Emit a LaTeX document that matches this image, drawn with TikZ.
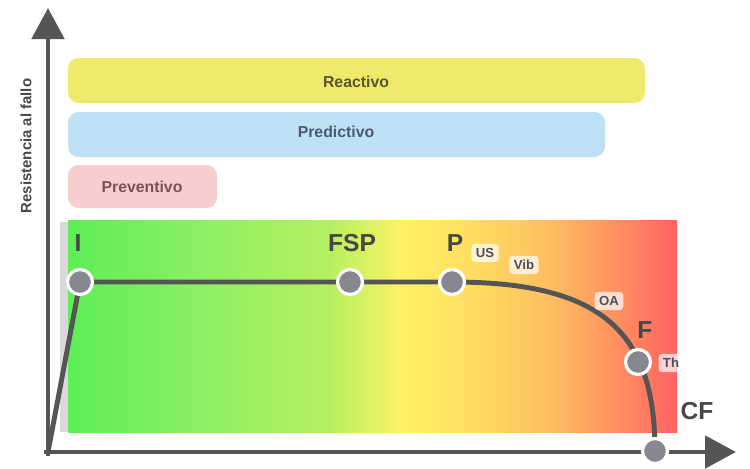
\documentclass[tikz,border=0pt]{standalone}
\usepackage{fontspec}
\setmainfont{Liberation Sans}
\usetikzlibrary{arrows.meta}

\definecolor{axisgray}{HTML}{555555}
\definecolor{dotgray}{HTML}{87878F}
\definecolor{textgray}{HTML}{474747}
\definecolor{reactbar}{HTML}{EFEA6C}
\definecolor{predbar}{HTML}{BEE1F6}
\definecolor{prevbar}{HTML}{F8CDCD}
\definecolor{reacttext}{HTML}{5A5630}
\definecolor{predtext}{HTML}{4C5A70}
\definecolor{prevtext}{HTML}{7A5252}
\definecolor{tagtext}{HTML}{4A5062}
\definecolor{stripgray}{HTML}{DCD6DE}
\definecolor{zgA}{HTML}{5EEE56}
\definecolor{zgB}{HTML}{8CF062}
\definecolor{zgC}{HTML}{B6F062}
\definecolor{zyA}{HTML}{FFF264}
\definecolor{zyB}{HTML}{FFDE62}
\definecolor{zoA}{HTML}{FFBE62}
\definecolor{zoB}{HTML}{FF8E60}
\definecolor{zrA}{HTML}{FF6262}

\pgfdeclarehorizontalshading{zone}{100bp}{color(0bp)=(zgA); color(25bp)=(zgA);
  color(35.8bp)=(zgB); color(46.5bp)=(zgC); color(52.5bp)=(zyA);
  color(58bp)=(zyB); color(64.5bp)=(zoA); color(70.3bp)=(zoB);
  color(75bp)=(zrA); color(100bp)=(zrA)}

\begin{document}
\begin{tikzpicture}[x=0.02cm,y=-0.02cm,
    axis/.style={line width=2.8pt,axisgray,-{Triangle[length=0.62cm,width=0.64cm]}},
    curve/.style={line width=2.8pt,axisgray},
    bar/.style={rounded corners=6pt,inner sep=0pt},
    barlabel/.style={font=\bfseries\fontsize{9}{10}\selectfont},
    dot/.style={circle,fill=dotgray,draw=white,line width=1.8pt,minimum size=0.5cm,inner sep=0pt},
    ptlabel/.style={font=\bfseries\fontsize{14}{16}\selectfont,textgray},
    tag/.style={font=\bfseries\fontsize{7.5}{9}\selectfont,text=tagtext,
      fill=white,fill opacity=0.7,text opacity=1,rounded corners=2pt,inner sep=2.5pt}]
\useasboundingbox (0,0) rectangle (750,468);

% zones
\fill[stripgray] (60,222) rectangle (68,432);
\fill[shading=zone] (68,220) rectangle (677,432);

% strategies
\fill[bar,reactbar] (68,58) rectangle (645,103);
\fill[bar,predbar] (68,112) rectangle (605,157);
\fill[bar,prevbar] (68,165) rectangle (217,208);
\node[barlabel,text=reacttext] (reactivo) at (356,82) {Reactivo};
\node[barlabel,text=predtext] (predictivo) at (336,132) {Predictivo};
\node[barlabel,text=prevtext] (preventivo) at (142,187) {Preventivo};

% axes
\coordinate (o) at (48,452);
\coordinate (ytop) at (48,8);
\coordinate (xend) at (736,452);
\draw[axis] (48,456) -- (ytop);
\draw[axis] (44,452) -- (xend);
\node[rotate=90,font=\bfseries\fontsize{8.5}{10}\selectfont,textgray] (ylab) at (26,146) {Resistencia al fallo};

% P-F curve
\coordinate (i) at (80,282);
\coordinate (fs) at (350,282);
\coordinate (p) at (452,282);
\coordinate (f) at (638,362);
\coordinate (c) at (655,451);
\draw[curve] (o) -- (i) -- (p) .. controls (600,282) and (655,330) .. (c);

\node[dot] (iPt) at (i) {};
\node[dot] (fsp) at (fs) {};
\node[dot] (pPt) at (p) {};
\node[dot] (fPt) at (f) {};
\node[dot] (cf) at (c) {};

\node[ptlabel] (iLab) at (78,243) {I};
\node[ptlabel] (fspLab) at (352,243) {FSP};
\node[ptlabel] (pLab) at (455,243) {P};
\node[ptlabel] (fLab) at (645,330) {F};
\node[ptlabel] (cfLab) at (697,411) {CF};

\node[tag] (us) at (485,253) {US};
\node[tag] (vib) at (524,265) {Vib};
\node[tag] (oa) at (609,301) {OA};
\node[tag] (th) at (671,363) {Th};
\end{tikzpicture}
\end{document}
